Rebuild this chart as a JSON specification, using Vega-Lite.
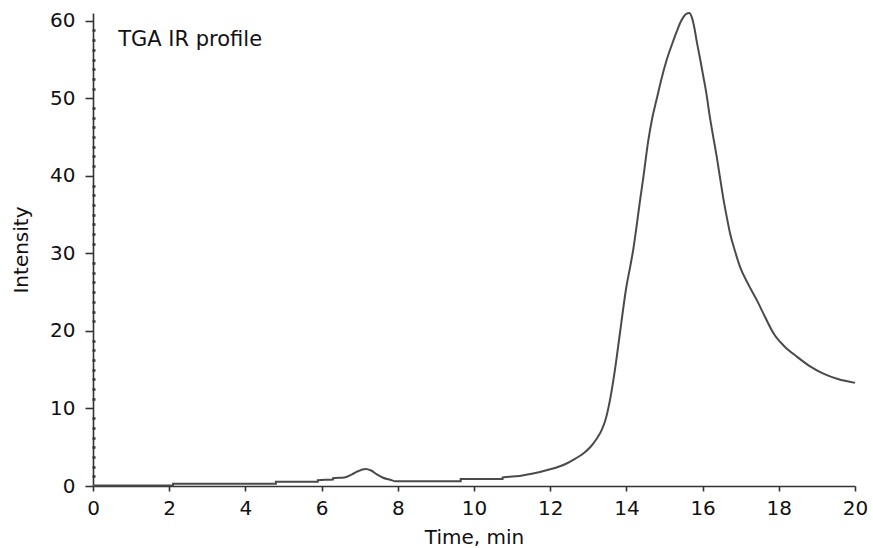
{
  "$schema": "https://vega.github.io/schema/vega-lite/v6.json",
  "width": 762,
  "height": 473,
  "autosize": "none",
  "padding": {"left": 93, "top": 13, "right": 18, "bottom": 62},
  "background": "white",
  "config": {
    "view": {"stroke": null},
    "font": "DejaVu Sans",
    "axis": {
      "grid": false,
      "domainColor": "#333333",
      "domainWidth": 1.6,
      "tickColor": "#333333",
      "tickWidth": 1.6,
      "labelFont": "DejaVu Sans",
      "labelFontSize": 20,
      "labelColor": "#111111",
      "titleFont": "DejaVu Sans",
      "titleFontSize": 20,
      "titleFontWeight": "normal",
      "titleColor": "#111111"
    }
  },
  "resolve": {"axis": {"y": "independent"}},
  "layer": [
    {
      "data": {
        "values": [
          {"time": 0, "intensity": 0.05},
          {"time": 2.1, "intensity": 0.05},
          {"time": 2.1, "intensity": 0.3},
          {"time": 4.8, "intensity": 0.3},
          {"time": 4.8, "intensity": 0.55},
          {"time": 5.9, "intensity": 0.55},
          {"time": 5.9, "intensity": 0.75},
          {"time": 6.3, "intensity": 0.85},
          {"time": 6.3, "intensity": 1.0},
          {"time": 6.6, "intensity": 1.1},
          {"time": 6.8, "intensity": 1.5},
          {"time": 6.95, "intensity": 1.9},
          {"time": 7.15, "intensity": 2.2},
          {"time": 7.3, "intensity": 2.0},
          {"time": 7.45, "intensity": 1.5},
          {"time": 7.6, "intensity": 1.1},
          {"time": 7.8, "intensity": 0.8},
          {"time": 7.95, "intensity": 0.6},
          {"time": 9.65, "intensity": 0.6},
          {"time": 9.65, "intensity": 0.9},
          {"time": 10.75, "intensity": 0.9},
          {"time": 10.75, "intensity": 1.1},
          {"time": 11.2, "intensity": 1.3},
          {"time": 11.55, "intensity": 1.6},
          {"time": 12.0, "intensity": 2.15},
          {"time": 12.2, "intensity": 2.45},
          {"time": 12.43, "intensity": 2.9},
          {"time": 12.65, "intensity": 3.5},
          {"time": 12.87, "intensity": 4.2},
          {"time": 13.05, "intensity": 5.0},
          {"time": 13.22, "intensity": 6.1},
          {"time": 13.35, "intensity": 7.2},
          {"time": 13.45, "intensity": 8.5},
          {"time": 13.57, "intensity": 11.1},
          {"time": 13.7, "intensity": 15.0},
          {"time": 13.83, "intensity": 19.7},
          {"time": 14.0, "intensity": 25.7},
          {"time": 14.1, "intensity": 28.3},
          {"time": 14.18, "intensity": 30.5},
          {"time": 14.27, "intensity": 33.6},
          {"time": 14.36, "intensity": 36.9},
          {"time": 14.45, "intensity": 40.0},
          {"time": 14.57, "intensity": 44.4},
          {"time": 14.68, "intensity": 47.5},
          {"time": 14.79, "intensity": 49.8},
          {"time": 14.92, "intensity": 52.5},
          {"time": 15.06, "intensity": 55.0},
          {"time": 15.2, "intensity": 57.0},
          {"time": 15.32, "intensity": 58.6},
          {"time": 15.42, "intensity": 59.8},
          {"time": 15.5, "intensity": 60.5},
          {"time": 15.57, "intensity": 60.9},
          {"time": 15.65, "intensity": 61.0},
          {"time": 15.72, "intensity": 60.4},
          {"time": 15.78, "intensity": 59.2},
          {"time": 15.84, "intensity": 57.5},
          {"time": 15.93, "intensity": 55.2},
          {"time": 16.02, "intensity": 52.8},
          {"time": 16.1, "intensity": 50.6},
          {"time": 16.19, "intensity": 47.6},
          {"time": 16.28, "intensity": 45.0},
          {"time": 16.37, "intensity": 42.5},
          {"time": 16.45, "intensity": 40.0},
          {"time": 16.54, "intensity": 37.2},
          {"time": 16.63, "intensity": 34.8},
          {"time": 16.72, "intensity": 32.6},
          {"time": 16.85, "intensity": 30.3},
          {"time": 16.98, "intensity": 28.3},
          {"time": 17.2, "intensity": 26.0},
          {"time": 17.42, "intensity": 24.0},
          {"time": 17.64, "intensity": 21.8},
          {"time": 17.86, "intensity": 19.7},
          {"time": 18.15, "intensity": 18.0},
          {"time": 18.47, "intensity": 16.7},
          {"time": 18.8, "intensity": 15.5},
          {"time": 19.17, "intensity": 14.5},
          {"time": 19.55, "intensity": 13.8},
          {"time": 20.0, "intensity": 13.3}
        ]
      },
      "mark": {"type": "line", "color": "#4a4a4a", "strokeWidth": 2, "clip": false, "interpolate": "monotone"},
      "encoding": {
        "x": {
          "field": "time",
          "type": "quantitative",
          "scale": {"domain": [0, 20], "nice": false, "zero": false},
          "axis": {
            "title": "Time, min",
            "values": [0, 2, 4, 6, 8, 10, 12, 14, 16, 18, 20],
            "tickSize": 5,
            "labelPadding": 7,
            "titlePadding": 9,
            "labelFlush": false
          }
        },
        "y": {
          "field": "intensity",
          "type": "quantitative",
          "scale": {"domain": [0, 61], "nice": false},
          "axis": {
            "orient": "left",
            "title": "Intensity",
            "titlePadding": 18,
            "values": [0, 10, 20, 30, 40, 50, 60],
            "labelFlush": false,
            "tickSize": 8,
            "labelPadding": 10
          }
        }
      }
    },
    {
      "data": {"values": [{"time": 0.66, "intensity": 56.8, "label": "TGA IR profile"}]},
      "mark": {"type": "text", "align": "left", "baseline": "alphabetic", "font": "DejaVu Sans", "fontSize": 21, "color": "#111111"},
      "encoding": {
        "x": {"field": "time", "type": "quantitative"},
        "y": {
          "field": "intensity",
          "type": "quantitative",
          "axis": {
            "orient": "left",
            "title": null,
            "labels": false,
            "domain": false,
            "values": [1.25, 2.5, 3.75, 5, 6.25, 7.5, 8.75, 11.25, 12.5, 13.75, 15, 16.25, 17.5, 18.75, 21.25, 22.5, 23.75, 25, 26.25, 27.5, 28.75, 31.25, 32.5, 33.75, 35, 36.25, 37.5, 38.75, 41.25, 42.5, 43.75, 45, 46.25, 47.5, 48.75, 51.25, 52.5, 53.75, 55, 56.25, 57.5, 58.75],
            "tickSize": 3,
            "tickWidth": 2.5,
            "offset": -2
          }
        },
        "text": {"field": "label"}
      }
    }
  ]
}
